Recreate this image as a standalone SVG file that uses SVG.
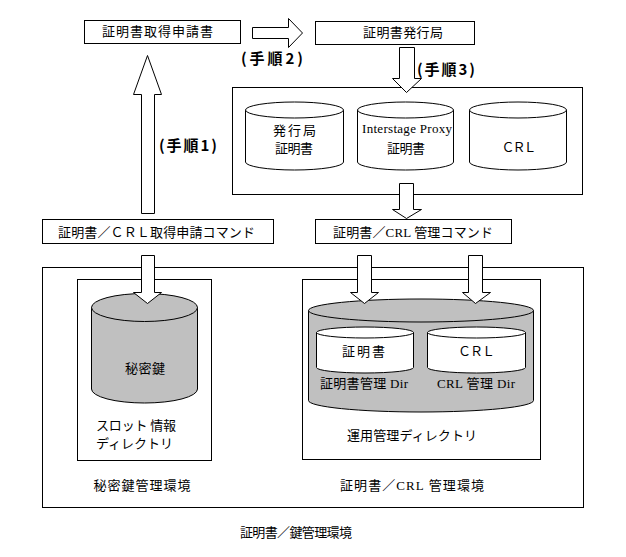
<svg xmlns="http://www.w3.org/2000/svg" width="626" height="557" viewBox="0 0 626 557">
<style>
.box{fill:#fff;stroke:#000;stroke-width:1}
.cw{fill:#fff;stroke:#000;stroke-width:1}
.cg{fill:#c0c0c0;stroke:#000;stroke-width:1}
.arr{fill:#fff;stroke:#000;stroke-width:1;stroke-linejoin:miter}
.t{font-family:"Noto Sans CJK JP",sans-serif;font-size:13px;fill:#000}
.m{font-family:"Liberation Serif","Noto Sans CJK JP",serif;font-size:13px;fill:#000}
.c{text-anchor:middle}
.step{font-family:"Noto Sans CJK JP",sans-serif;font-size:15px;font-weight:bold;fill:#000}
</style>
<rect width="626" height="557" fill="#fff"/>

<g id="env">
<rect class="box" x="42.5" y="267.5" width="541" height="240"/>
<text class="t c" x="142" y="490" textLength="97" lengthAdjust="spacing">秘密鍵管理環境</text>
<text class="m c" x="412" y="490" textLength="144" lengthAdjust="spacing">証明書／CRL 管理環境</text>
</g>
<text id="env-title" class="t c" x="296" y="537" textLength="112" lengthAdjust="spacing">証明書／鍵管理環境</text>

<g id="req">
<rect class="box" x="84.5" y="20.5" width="156" height="23"/>
<text class="t c" x="157.5" y="36" textLength="111" lengthAdjust="spacing">証明書取得申請書</text>
</g>

<g id="ca">
<rect class="box" x="315.5" y="21.5" width="159" height="23"/>
<text class="t c" x="403" y="37" textLength="80" lengthAdjust="spacing">証明書発行局</text>
</g>

<g id="ca-store">
<rect class="box" x="232.5" y="87.5" width="350" height="107"/>
<g id="cyl-ca">
<path class="cw" d="M245.5,110 L245.5,162 A49,8 0 0 0 343.5,162 L343.5,110 Z"/>
<ellipse class="cw" cx="294.5" cy="110" rx="49" ry="8"/>
<text class="t c" x="294.5" y="135" textLength="43" lengthAdjust="spacing">発行局</text>
<text class="t c" x="294" y="153" textLength="38" lengthAdjust="spacing">証明書</text>
</g>
<g id="cyl-proxy">
<path class="cw" d="M357.5,110 L357.5,162 A48,8 0 0 0 453.5,162 L453.5,110 Z"/>
<ellipse class="cw" cx="405.5" cy="110" rx="48" ry="8"/>
<text class="m c" x="407" y="133" font-size="14" textLength="90" lengthAdjust="spacing">Interstage Proxy</text>
<text class="t c" x="406" y="153" textLength="38" lengthAdjust="spacing">証明書</text>
</g>
<g id="cyl-crl">
<path class="cw" d="M469.5,110 L469.5,162 A48.5,8 0 0 0 566.5,162 L566.5,110 Z"/>
<ellipse class="cw" cx="518" cy="110" rx="48.5" ry="8"/>
<text class="t c" x="519" y="152" textLength="35" lengthAdjust="spacing">ＣＲＬ</text>
</g>
</g>

<g id="cmd-req">
<rect class="box" x="42.5" y="219.5" width="231" height="24"/>
<text class="t c" x="156.5" y="237" textLength="197" lengthAdjust="spacing">証明書／ＣＲＬ取得申請コマンド</text>
</g>

<g id="cmd-mgmt">
<rect class="box" x="315.5" y="219.5" width="196" height="24"/>
<text class="m c" x="413" y="237" textLength="160" lengthAdjust="spacing">証明書／CRL 管理コマンド</text>
</g>

<g id="slot-dir">
<rect class="box" x="77.5" y="279.5" width="134" height="181"/>
<path class="cg" d="M91.5,307.5 L91.5,389 A53,14 0 0 0 197.5,389 L197.5,307.5 Z"/>
<ellipse class="cg" cx="144.5" cy="307.5" rx="53" ry="14"/>
<text class="t c" x="145" y="373" textLength="40" lengthAdjust="spacing">秘密鍵</text>
<text class="t" x="96" y="430" textLength="80" lengthAdjust="spacing">スロット 情報</text>
<text class="t" x="96" y="448" textLength="77" lengthAdjust="spacing">ディレクトリ</text>
</g>

<g id="ops-dir">
<rect class="box" x="302.5" y="279.5" width="238" height="180"/>
<path class="cg" d="M308.5,310.5 L308.5,400.5 A112.5,11.5 0 0 0 533.5,400.5 L533.5,310.5 Z"/>
<ellipse class="cg" cx="421" cy="310.5" rx="112.5" ry="11.5"/>
<g id="cert-dir">
<path class="cw" d="M316.5,332.5 L316.5,367.5 A48.5,5.5 0 0 0 413.5,367.5 L413.5,332.5 Z"/>
<ellipse class="cw" cx="365" cy="332.5" rx="48.5" ry="5.5"/>
<text class="t c" x="363.5" y="356" textLength="43" lengthAdjust="spacing">証明書</text>
<text class="m c" x="364" y="388" textLength="88" lengthAdjust="spacing">証明書管理 Dir</text>
</g>
<g id="crl-dir">
<path class="cw" d="M427.5,332.5 L427.5,367.5 A49,5.5 0 0 0 525.5,367.5 L525.5,332.5 Z"/>
<ellipse class="cw" cx="476.5" cy="332.5" rx="49" ry="5.5"/>
<text class="t c" x="476.5" y="356" textLength="37" lengthAdjust="spacing">ＣＲＬ</text>
<text class="m c" x="476" y="388" textLength="78" lengthAdjust="spacing">CRL 管理 Dir</text>
</g>
<text class="t c" x="412" y="440" textLength="130" lengthAdjust="spacing">運用管理ディレクトリ</text>
</g>

<g id="connectors">
<polygon class="arr" points="141.5,213.5 141.5,94.5 133.5,94.5 147.5,55.5 161.5,94.5 154.5,94.5 154.5,213.5"/>
<text class="step" x="159" y="151" textLength="58" lengthAdjust="spacing">(手順1)</text>
<polygon class="arr" points="252.5,27.5 288.5,27.5 288.5,18.5 302.5,33 288.5,47.5 288.5,38.5 252.5,38.5"/>
<text class="step" x="241" y="64" textLength="62" lengthAdjust="spacing">(手順2)</text>
<polygon class="arr" points="399.5,47.5 414.5,47.5 414.5,78.5 421.5,78.5 406.5,92.5 392.5,78.5 399.5,78.5"/>
<text class="step" x="417" y="75" textLength="58" lengthAdjust="spacing">(手順3)</text>
<polygon class="arr" points="399.5,183.5 413.5,183.5 413.5,209.5 421.5,209.5 406.5,218.5 392.5,209.5 399.5,209.5"/>
<polygon class="arr" points="141.5,255.5 154.5,255.5 154.5,292.5 161.5,292.5 147.5,303.5 133.5,292.5 141.5,292.5"/>
<polygon class="arr" points="357.5,255.5 371.5,255.5 371.5,292.5 378.5,292.5 364.5,303.5 350.5,292.5 357.5,292.5"/>
<polygon class="arr" points="468.5,255.5 482.5,255.5 482.5,292.5 490.5,292.5 475.5,303.5 462.5,292.5 468.5,292.5"/>
</g>
</svg>
